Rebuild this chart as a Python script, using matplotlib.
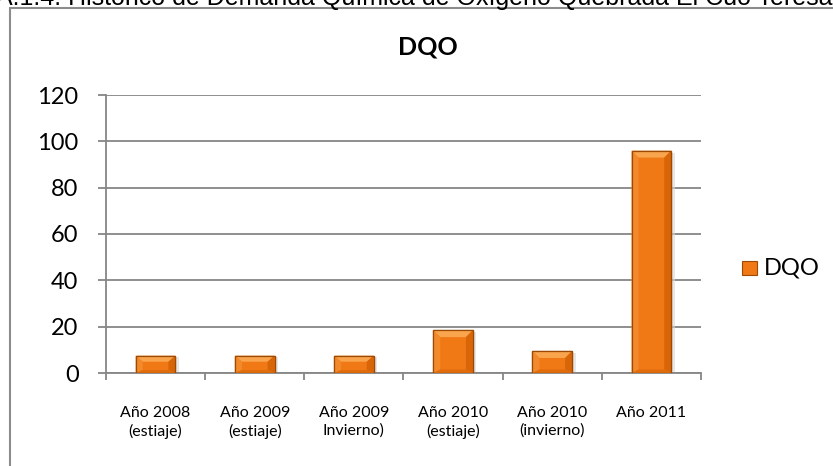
import matplotlib
matplotlib.use("Agg")
import matplotlib.pyplot as plt
from matplotlib.patches import Rectangle, Polygon
import numpy as np

categories = ["Año 2008\n(estiaje)", "Año 2009\n(estiaje)", "Año 2009\nInvierno)",
              "Año 2010\n(estiaje)", "Año 2010\n(invierno)", "Año 2011"]
dqo_values = [7.5, 7.5, 7.5, 18.5, 9.5, 96.0]
y_ticks = [0, 20, 40, 60, 80, 100, 120]

plt.rcParams['font.family'] = ['Lato', 'DejaVu Sans']

W, H = 833, 466
fig = plt.figure(figsize=(W / 100, H / 100), dpi=100)
fig.patch.set_facecolor('white')

# caption line, partly cut by the top edge of the page
fig.text(-0.005, 1 - 5 / H, "A.1.4. Histórico de Demanda Química de Oxígeno Quebrada El Cuo Teresa E",
         family='Liberation Sans', fontsize=18, ha='left', va='baseline', color='black')

# chart frame
fig.patches.append(Rectangle((9.5 / W, -0.05), 1.1, 1 - 8 / H + 0.05, transform=fig.transFigure,
                             fill=False, edgecolor='#8c8c8c', linewidth=1.5))

ax = fig.add_axes([106 / W, 1 - 373 / H, (701 - 106) / W, (373 - 95) / H])
grid_c = '#868686'

x = np.arange(len(categories))
bw = 0.4
main_c = '#F07815'
edge_c = '#9C4A06'
bars = ax.bar(x, dqo_values, width=bw, color=main_c, edgecolor=edge_c, linewidth=0.9, zorder=3)

# bevel shading on each bar
px_x = 7 / ((701 - 106) / 6)   # data units for ~7 px horizontally
px_y = 7 / ((373 - 95) / 120)  # data units for ~7 px vertically
for b in bars:
    x0, w, h = b.get_x(), b.get_width(), b.get_height()
    x1 = x0 + w
    by = min(px_y, h * 0.35)
    bx = min(px_x, w * 0.2)
    # soft shadow on the right
    ax.add_patch(Rectangle((x1, 0), px_x * 0.5, h - by * 0.3, color='#d8d8d8', alpha=0.6,
                           zorder=2, linewidth=0))
    # top bevel (lighter)
    ax.add_patch(Polygon([(x0, h), (x1, h), (x1 - bx, h - by), (x0 + bx, h - by)],
                         closed=True, facecolor='#F9A54E', edgecolor='none', zorder=4))
    # left bevel
    ax.add_patch(Polygon([(x0, 0), (x0, h), (x0 + bx, h - by), (x0 + bx, by * 0.5)],
                         closed=True, facecolor='#F28A2C', edgecolor='none', zorder=4))
    # right bevel (darker)
    ax.add_patch(Polygon([(x1, 0), (x1, h), (x1 - bx, h - by), (x1 - bx, by * 0.5)],
                         closed=True, facecolor='#D86508', edgecolor='none', zorder=4))
    # bottom bevel
    ax.add_patch(Polygon([(x0, 0), (x1, 0), (x1 - bx, by * 0.5), (x0 + bx, by * 0.5)],
                         closed=True, facecolor='#E06C0C', edgecolor='none', zorder=4))
    ax.add_patch(Rectangle((x0, 0), w, h, fill=False, edgecolor=edge_c, linewidth=0.9, zorder=5))

ax.set_xlim(-0.5, len(categories) - 0.5)
ax.set_ylim(0, 120)
ax.set_yticks(y_ticks)
ax.set_yticklabels([str(v) for v in y_ticks], fontsize=17, family='Lato')
ax.yaxis.grid(True, color=grid_c, linewidth=1.3, zorder=0)
ax.set_axisbelow(True)

ax.set_xticks(x)
ax.set_xticklabels(categories, fontsize=11.5, family='Lato', linespacing=1.3)
ax.set_xticks(np.arange(len(categories) + 1) - 0.5, minor=True)
ax.tick_params(axis='x', which='major', length=0, pad=24)
ax.tick_params(axis='x', which='minor', length=5, width=1.3, color=grid_c, direction='out')
ax.tick_params(axis='y', length=5.8, width=1.3, color=grid_c, pad=14)

for s in ['top', 'right']:
    ax.spines[s].set_visible(False)
for s in ['left', 'bottom']:
    ax.spines[s].set_color(grid_c)
    ax.spines[s].set_linewidth(1.3)

fig.text(428 / W, 1 - 47 / H, "DQO", ha='center', va='center', fontsize=18,
         fontweight='bold', family='Lato')

# legend
fig.patches.append(Rectangle((742 / W, 1 - 275 / H), 15 / W, 14 / H, transform=fig.transFigure,
                             facecolor=main_c, edgecolor=edge_c, linewidth=0.8))
fig.text(764 / W, 1 - 268 / H, "DQO", ha='left', va='center', fontsize=17, family='Lato')

fig.savefig("out.png", dpi=100)
